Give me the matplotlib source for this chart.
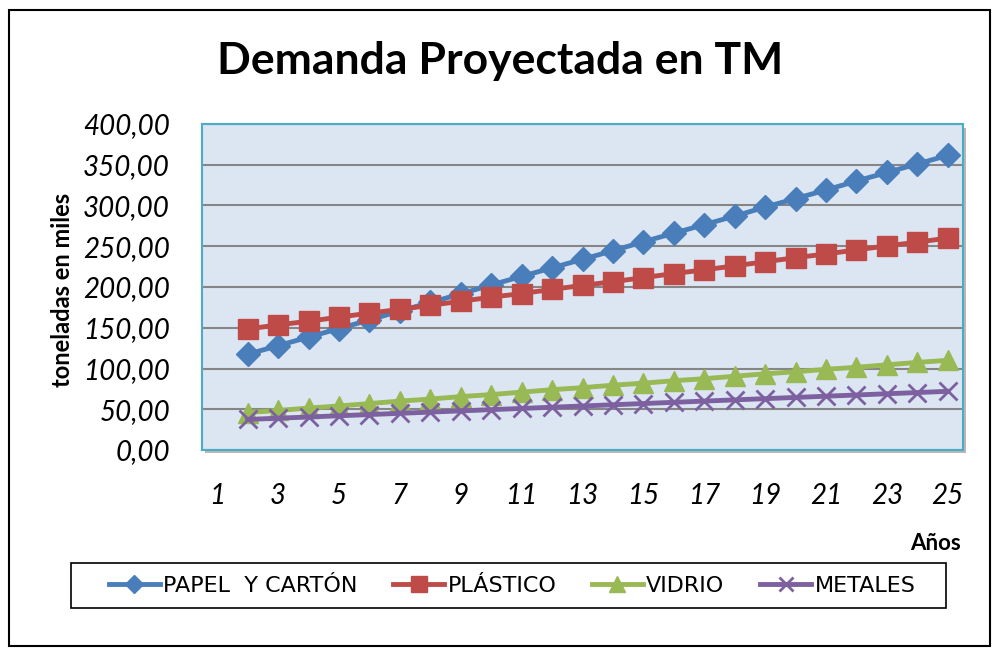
import matplotlib.pyplot as plt
from matplotlib.patches import Rectangle

# años 1..25, el año 1 no tiene datos
anios = list(range(2, 26))
etiquetas_x = [1, 3, 5, 7, 9, 11, 13, 15, 17, 19, 21, 23, 25]

papel = [117.5, 128.0, 138.5, 149.0, 159.5, 170.5, 181.0, 191.5, 202.5, 213.0, 223.5,
         234.0, 244.5, 255.5, 266.0, 276.5, 287.0, 298.0, 308.5, 319.0, 330.0, 340.5,
         351.0, 361.5]
plastico = [148.5, 153.5, 158.0, 163.0, 168.0, 172.5, 177.5, 182.5, 187.5, 192.0, 197.0,
            202.0, 206.5, 211.5, 216.5, 221.0, 226.0, 231.0, 236.0, 240.5, 245.5, 250.5,
            255.0, 260.0]
vidrio = [46.0, 48.5, 51.5, 54.0, 57.0, 60.0, 62.5, 65.5, 68.0, 71.0, 74.0, 76.5, 79.5,
          82.0, 85.0, 87.5, 90.5, 93.5, 96.0, 99.0, 101.5, 104.5, 107.5, 110.0]
metales = [37.5, 39.0, 40.5, 42.0, 43.5, 45.0, 46.5, 48.0, 49.5, 51.0, 52.5, 54.0, 55.5,
           57.0, 58.5, 60.0, 61.5, 63.0, 64.5, 66.0, 67.5, 69.0, 70.5, 72.0]

W, H = 993, 648
fig = plt.figure(figsize=(W / 100, H / 100), dpi=100)

def caja(x0, y0, x1, y1, **kw):
    # rectangulo en pixeles (origen arriba a la izquierda)
    r = Rectangle((x0 / W, 1 - y1 / H), (x1 - x0) / W, (y1 - y0) / H,
                  transform=fig.transFigure, **kw)
    fig.patches.append(r)
    return r

caja(9, 10, 990, 646, fill=False, edgecolor='black', linewidth=1.5)
# sombra del area de trazado
caja(205, 128, 966, 453, facecolor='#b8b8b8', edgecolor='none', zorder=-1)
caja(71, 563, 946, 608, fill=False, edgecolor='black', linewidth=1.2)

ax = fig.add_axes([202 / W, 198 / H, 761 / W, 326 / H])
ax.set_facecolor('#dce6f2')

ax.plot(anios, papel, color='#4a7ebb', lw=3.5, marker='D', ms=12, label='PAPEL  Y CARTÓN')
ax.plot(anios, plastico, color='#be4b48', lw=3.5, marker='s', ms=14, label='PLÁSTICO')
ax.plot(anios, vidrio, color='#98b954', lw=3.5, marker='^', ms=14, label='VIDRIO')
ax.plot(anios, metales, color='#7d60a0', lw=3.5, marker='x', ms=13, mew=2, label='METALES')

ax.set_xlim(0.5, 25.5)
ax.set_ylim(0, 400)
ax.set_yticks(range(0, 401, 50))
ax.set_yticklabels([f'{v},00' for v in range(0, 401, 50)])
ax.set_xticks(etiquetas_x)
ax.grid(axis='y', color='#868686', lw=1.5)
ax.set_axisbelow(True)
ax.tick_params(length=0, labelsize=20)
ax.tick_params(axis='y', pad=23)
ax.tick_params(axis='x', pad=24)
for t in ax.get_xticklabels() + ax.get_yticklabels():
    t.set_fontstyle('italic')
    t.set_family('Lato')
for s in ax.spines.values():
    s.set_color('#4bacc6')
    s.set_linewidth(1.5)

fig.text(500 / W, 1 - 61 / H, 'Demanda Proyectada en TM', ha='center', va='center',
         fontsize=32, fontweight='bold', family='Lato')
fig.text(62 / W, 1 - 290 / H, 'toneladas en miles', rotation=90, ha='center', va='center',
         fontsize=17, fontweight='bold', family='Lato')
fig.text(936 / W, 1 - 543 / H, 'Años', ha='center', va='center',
         fontsize=16, fontweight='bold', family='Lato')

leg = fig.legend(loc='center', bbox_to_anchor=(512 / W, 1 - 586 / H), ncol=4,
                 frameon=False, markerscale=0.8,
                 prop={'size': 16}, handlelength=2.3,
                 columnspacing=1.6, handletextpad=0.15, borderpad=0.3)

fig.savefig('out.png', dpi=100)
